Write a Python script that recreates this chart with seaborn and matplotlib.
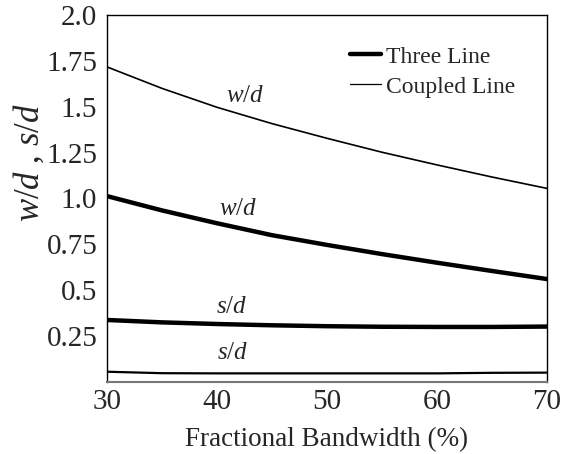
import matplotlib
matplotlib.use("Agg")
import matplotlib.pyplot as plt
import seaborn as sns
import pandas as pd
from matplotlib.lines import Line2D
from matplotlib.ticker import MultipleLocator

bandwidth = [30, 35, 40, 45, 50, 55, 60, 65, 70]
three_wd = [1.013, 0.935, 0.865, 0.800, 0.747, 0.697, 0.650, 0.605, 0.561]
three_sd = [0.338, 0.325, 0.316, 0.309, 0.304, 0.301, 0.300, 0.300, 0.302]
coupled_wd = [1.717, 1.600, 1.497, 1.408, 1.328, 1.252, 1.183, 1.117, 1.055]
coupled_sd = [0.056, 0.048, 0.047, 0.047, 0.047, 0.047, 0.047, 0.050, 0.051]

sns.set_style("white")
plt.rcParams['font.family'] = ['Liberation Serif', 'DejaVu Serif']
plt.rcParams['mathtext.fontset'] = 'custom'
plt.rcParams['mathtext.it'] = 'Liberation Serif:italic'
plt.rcParams['mathtext.rm'] = 'Liberation Serif'

fig = plt.figure(figsize=(5.67, 4.54), dpi=100)
ax = fig.add_axes([0.1887, 0.1586, 0.776, 0.8084])

df = pd.DataFrame({"bw": bandwidth, "tw": three_wd, "ts": three_sd,
                   "cw": coupled_wd, "cs": coupled_sd})
for col, lw in [("tw", 3.2), ("ts", 3.2), ("cw", 1.2), ("cs", 1.6)]:
    sns.lineplot(data=df, x="bw", y=col, ax=ax, color="black", linewidth=lw)

ax.set_xlim(30, 70)
ax.set_ylim(0, 2.0)
ax.set_xticks([30, 40, 50, 60, 70])
ax.xaxis.set_minor_locator(MultipleLocator(5))
ax.set_yticks([0.25, 0.5, 0.75, 1.0, 1.25, 1.5, 1.75, 2.0])
ax.set_yticklabels(["0.25", "0.5", "0.75", "1.0", "1.25", "1.5", "1.75", "2.0"])
ax.tick_params(axis="both", which="both", direction="in", length=5, labelsize=21)
ax.tick_params(axis="x", which="both", color="#777777", pad=5)
ax.tick_params(axis="y", pad=7)
for s in ["left", "right", "top"]:
    ax.spines[s].set_color("black")
    ax.spines[s].set_linewidth(1.0)
ax.spines["bottom"].set_color("#777777")
ax.spines["bottom"].set_linewidth(1.5)

ax.set_xlabel("Fractional Bandwidth (%)", fontsize=19.5, labelpad=9)
ax.set_ylabel(r"$w$/$d$ , $s$/$d$", fontsize=25)
ax.yaxis.set_label_coords(-0.138, 0.597)

ax.text(42.6, 1.56, r"$w$/$d$", fontsize=18, ha="center", va="center")
ax.text(41.9, 0.94, r"$w$/$d$", fontsize=18, ha="center", va="center")
ax.text(41.3, 0.41, r"$s$/$d$", fontsize=18, ha="center", va="center")
ax.text(41.4, 0.16, r"$s$/$d$", fontsize=18, ha="center", va="center")

handles = [Line2D([0], [0], color="black", lw=3.2),
           Line2D([0], [0], color="black", lw=0.9)]
ax.legend(handles, ["Three Line", "Coupled Line"], loc="upper left",
          bbox_to_anchor=(0.505, 0.973), frameon=False, fontsize=17,
          handlelength=1.3, handletextpad=0.2, labelspacing=0.36)

fig.savefig("out.png", dpi=100)
